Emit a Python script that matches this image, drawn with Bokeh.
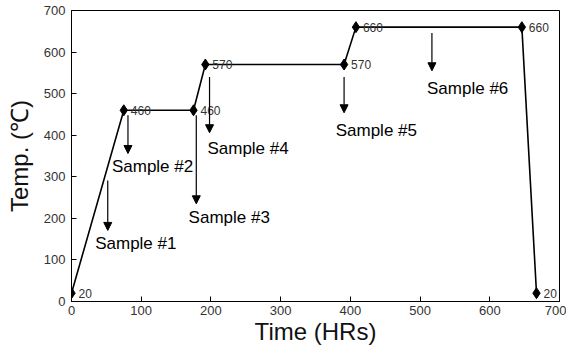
from bokeh.plotting import figure
from bokeh.models import Range1d, Arrow, NormalHead, ColumnDataSource, LabelSet
from bokeh.core.properties import value
from bokeh.embed import file_html
from bokeh.resources import INLINE

time_hrs = [0, 75, 175, 192, 391, 408, 646, 667]
temp_c = [20, 460, 460, 570, 570, 660, 660, 20]
temp_labels = ["20", "460", "460", "570", "570", "660", "660", "20"]

sample_names = ["Sample #1", "Sample #2", "Sample #3", "Sample #4", "Sample #5", "Sample #6"]
arrow_x = [52, 81, 179, 198, 391, 517]
arrow_y0 = [291, 448, 448, 540, 540, 646]
arrow_y1 = [171, 356, 235, 406, 454, 555]
label_x = [34, 58, 168, 195, 379, 510]
label_y = [140, 325, 202, 368, 411, 512]

FONT = "Liberation Sans"

p = figure(width=566, height=350, output_backend="svg", toolbar_location=None,
           x_range=Range1d(0, 700), y_range=Range1d(0, 700),
           min_border_left=71, min_border_right=7, min_border_top=10, min_border_bottom=49)
p.xgrid.visible = False
p.ygrid.visible = False
p.outline_line_color = "black"
p.outline_line_width = 1

for ax in (p.xaxis[0], p.yaxis[0]):
    ax.axis_line_color = "black"
    ax.major_tick_in = 5
    ax.major_tick_out = 0
    ax.minor_tick_in = 0
    ax.minor_tick_out = 0
    ax.major_label_text_font = FONT
    ax.major_label_text_font_size = "13px"
    ax.major_label_text_color = "#333333"
    ax.axis_label_text_font = FONT
    ax.axis_label_text_font_size = "24px"
    ax.axis_label_text_font_style = "normal"
    ax.axis_label_text_color = "#111111"
p.xaxis.ticker = list(range(0, 701, 100))
p.yaxis.ticker = list(range(0, 701, 100))
p.xaxis.axis_label = "Time (HRs)"
p.yaxis.axis_label = "Temp. (℃)"
p.xaxis.major_label_standoff = 4
p.xaxis.axis_label_standoff = 0
p.yaxis.major_label_standoff = 6
p.yaxis.axis_label_standoff = 8

src = ColumnDataSource(dict(x=time_hrs, y=temp_c, t=temp_labels))
p.line("x", "y", source=src, line_color="black", line_width=1.6)
p.scatter("x", "y", source=src, marker="diamond", size=11, fill_color="black", line_color="black")
p.add_layout(LabelSet(x="x", y="y", text="t", source=src, x_offset=7, y_offset=0,
                      text_baseline="middle", text_font=value(FONT), text_font_size="12px",
                      text_color="#333333"))

for ax_, y0, y1 in zip(arrow_x, arrow_y0, arrow_y1):
    p.add_layout(Arrow(end=NormalHead(size=8, fill_color="black", line_color="black"),
                       x_start=ax_, y_start=y0, x_end=ax_, y_end=y1,
                       line_color="black", line_width=1.2))

lsrc = ColumnDataSource(dict(x=label_x, y=label_y, t=sample_names))
p.add_layout(LabelSet(x="x", y="y", text="t", source=lsrc, text_baseline="middle",
                      text_font=value(FONT), text_font_size="17px", text_color="black"))

open("out.html", "w").write(file_html(p, INLINE))
